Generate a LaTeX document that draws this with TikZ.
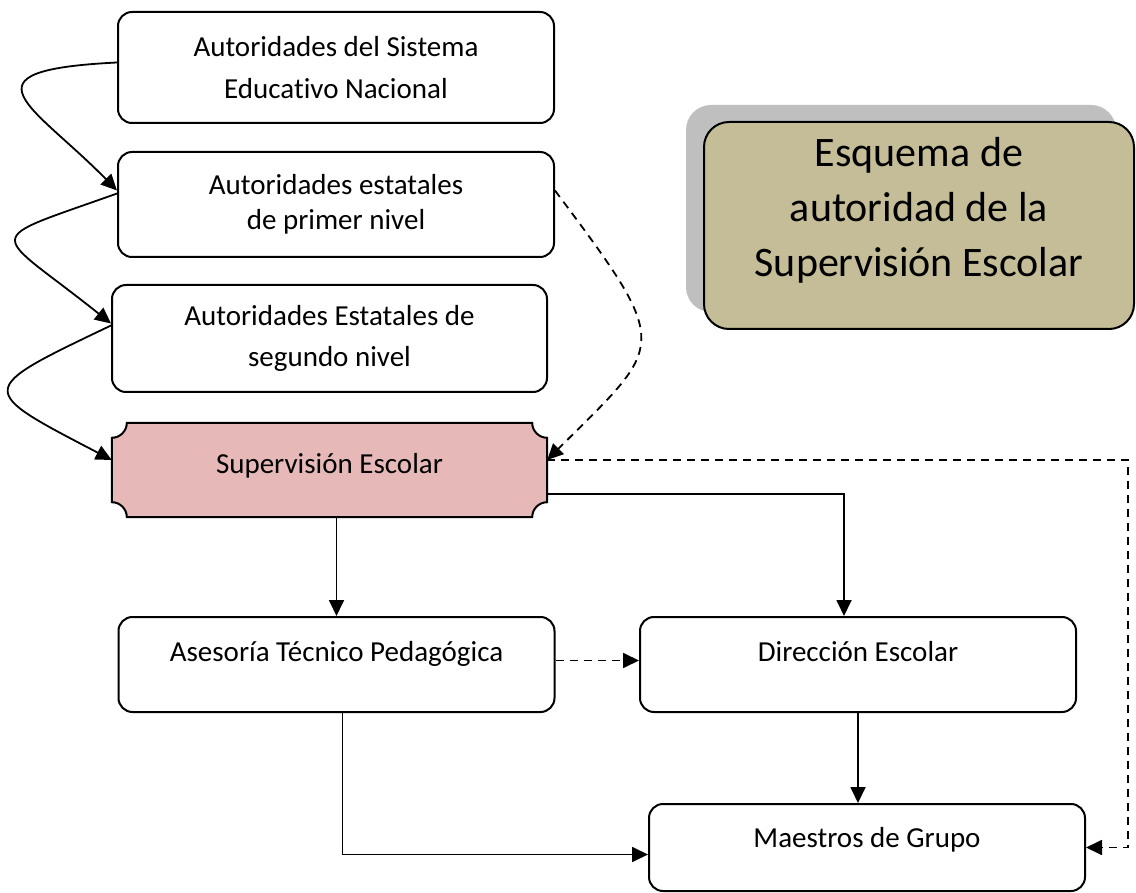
\documentclass[tikz,border=0pt]{standalone}
\usepackage{fontspec}
\setmainfont[Ligatures=NoCommon]{Carlito}
\usetikzlibrary{arrows.meta,shadows,backgrounds}
\definecolor{pinkfill}{RGB}{230,185,184}
\definecolor{tanfill}{RGB}{196,189,151}
\definecolor{shadowgray}{RGB}{191,191,191}

\begin{document}
\begin{tikzpicture}[x=1pt, y=-1pt, >={Triangle[length=16pt,width=15pt]},
  block/.style={draw, line width=2pt, rounded corners=14pt, minimum width=436pt, inner sep=0pt, font=\fontsize{29}{35}\selectfont},
  toptext/.style={text height=20pt, text depth=27pt},
  link/.style={line width=1.8pt},
  dashlink/.style={line width=1.8pt, dash pattern=on 8pt off 6pt},]
  \useasboundingbox (0,0) rectangle (1136,893);

  % cadena de autoridades
  \node[block, minimum height=111pt, align=center] (sen) at (336,67.5) {Autoridades del Sistema\\[7pt]Educativo Nacional};
  \node[block, minimum height=105pt, align=center] (est1) at (336,204.5) {Autoridades estatales\\de primer nivel};
  \node[block, minimum height=107pt, minimum width=435pt, align=center] (est2) at (329.5,338.5) {Autoridades Estatales de\\[6pt]segundo nivel};
  \node[minimum width=435pt, minimum height=94pt, inner sep=0pt, text height=20pt, text depth=14pt, font=\fontsize{29}{35}\selectfont] (sup) at (329.5,470) {Supervisión Escolar};
  \begin{scope}[on background layer]
    \draw[line width=2pt, fill=pinkfill] ([yshift=-15pt]sup.north west) arc[start angle=-90, end angle=0, radius=15pt]
      -- ([xshift=-15pt]sup.north east) arc[start angle=180, end angle=270, radius=15pt]
      -- ([yshift=15pt]sup.south east) arc[start angle=90, end angle=180, radius=15pt]
      -- ([xshift=15pt]sup.south west) arc[start angle=0, end angle=90, radius=15pt] -- cycle;
  \end{scope}

  % nivel escolar
  \node[block, toptext, minimum height=95pt] (asp) at (336.5,664.5) {Asesoría Técnico Pedagógica};
  \node[block, toptext, minimum height=95pt] (dir) at (858,664.5) {Dirección Escolar};
  \node[block, minimum height=87pt, text height=20pt, text depth=20pt] (mae) at (867,847.5) {Maestros de Grupo};

  % titulo
  \node[draw, line width=2pt, rounded corners=25pt, fill=tanfill, minimum width=430pt, minimum height=207pt,
        drop shadow={shadow xshift=-18pt, shadow yshift=17pt, fill=shadowgray, opacity=1}] (esq) at (919,225.5) {};
  \node[font=\fontsize{42}{55}\selectfont, align=center] (esqtext) at ([yshift=15pt]esq.center) {Esquema de\\autoridad de la\\Supervisión Escolar};

  \draw[->, link] ([yshift=5pt]sen.west) .. controls +(-163,8) and +(-83,-85) .. ([yshift=14pt]est1.west);
  \draw[->, link] ([yshift=11pt]est1.west) .. controls +(-140,50) and +(-120,-96) .. ([yshift=15pt]est2.west);
  \draw[->, link] ([yshift=13pt]est2.west) .. controls +(-136,65) and +(-136,-71) .. ([yshift=10pt]sup.west);
  \draw[->, dashlink] ([yshift=14pt]est1.east) .. controls +(119,159) and +(118,-118) .. ([yshift=10pt]sup.east);

  \draw[->, link] (asp.north |- sup.south) -- (asp.north);
  \draw[->, link] ([yshift=-24pt]sup.east) -| ([xshift=-14pt]dir.north);
  \draw[->, dashlink] ([yshift=10pt]sup.east) -- ++(581,0) |- (mae.east);
  \draw[->, dashlink] ([yshift=4pt]asp.east) -- ([yshift=4pt]dir.west);
  \draw[->, link] (dir.south) -- (dir.south |- mae.north);
  \draw[->, link] ([xshift=6pt]asp.south) |- ([yshift=-7pt]mae.west);
\end{tikzpicture}
\end{document}
